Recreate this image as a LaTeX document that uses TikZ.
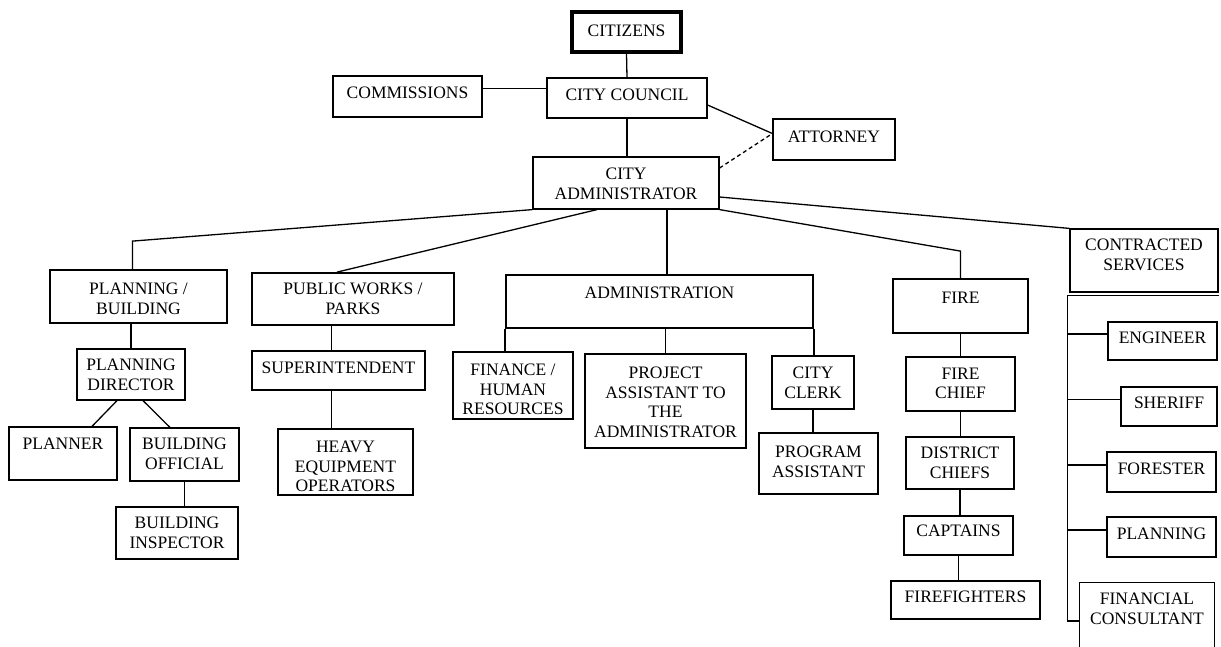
\documentclass[tikz,border=0pt]{standalone}
\usepackage{fontspec}
\setmainfont{Liberation Serif}
\newcommand{\bxt}[4]{\parbox[c][#2pt][t]{#1pt}{\centering\vspace*{#3pt}#4\par}}
\tikzset{
  orgbox/.style={draw, line width=1.2pt, inner sep=0pt, rectangle, font=\fontsize{17.5}{19.5}\selectfont},
  headbox/.style={orgbox, line width=1.8pt},
  topbox/.style={orgbox, line width=3.4pt},
  conn/.style={line width=1.3pt},
  dashconn/.style={line width=1.3pt, dash pattern=on 4pt off 3pt},
}
\begin{document}
\begin{tikzpicture}[x=1pt,y=-1pt]
\useasboundingbox (0,0) rectangle (1221,646);
\fill[white] (0,0) rectangle (1221,646);
% top
\node[topbox] (cit) at (626.5,32) {\bxt{109}{40}{13}{CITIZENS}};
\node[orgbox] (com) at (407.5,96.5) {\bxt{149}{41}{11}{COMMISSIONS}};
\node[orgbox] (cc) at (627,98) {\bxt{160}{40}{11}{CITY COUNCIL}};
\node[orgbox] (ca) at (626,183) {\bxt{186}{52}{11}{CITY\\ADMINISTRATOR}};
\node[orgbox] (att) at (834,139.5) {\bxt{122}{41}{12}{ATTORNEY}};
% departments
\node[headbox] (pb) at (138.5,296.5) {\bxt{177}{53}{13}{PLANNING /\\BUILDING}};
\node[headbox] (pw) at (353,299) {\bxt{202}{52}{10}{PUBLIC WORKS /\\PARKS}};
\node[headbox] (adm) at (659.5,301.5) {\bxt{307}{53}{12}{ADMINISTRATION}};
\node[headbox] (fire) at (960.5,306) {\bxt{135}{54}{13}{FIRE}};
\node[orgbox] (cs) at (1144,260.5) {\bxt{148}{63}{10}{CONTRACTED\\SERVICES}};
% planning
\node[orgbox] (pd) at (131,374.5) {\bxt{108}{51}{10}{PLANNING\\DIRECTOR}};
\node[orgbox] (pl) at (63,453.5) {\bxt{108}{53}{11}{PLANNER}};
\node[orgbox] (bo) at (184.5,454.5) {\bxt{109}{53}{10}{BUILDING\\OFFICIAL}};
\node[orgbox] (bi) at (177,533) {\bxt{122}{52}{10}{BUILDING\\INSPECTOR}};
% public works
\node[orgbox] (sup) at (338.5,370.5) {\bxt{173}{39}{11}{SUPERINTENDENT}};
\node[orgbox] (hv) at (345.5,462) {\bxt{135}{66}{12}{HEAVY\\EQUIPMENT\\OPERATORS}};
% administration
\node[orgbox] (fin) at (513,385.5) {\bxt{120}{67}{12}{FINANCE /\\HUMAN\\RESOURCES}};
\node[orgbox] (pa) at (665.5,401) {\bxt{161}{94}{13}{PROJECT\\ASSISTANT TO\\THE\\ADMINISTRATOR}};
\node[orgbox] (clk) at (813,382.5) {\bxt{82}{53}{11}{CITY\\CLERK}};
\node[orgbox] (prog) at (818.5,463.5) {\bxt{119}{61}{13}{PROGRAM\\ASSISTANT}};
% fire
\node[orgbox] (fc) at (960.5,384) {\bxt{109}{54}{11}{FIRE\\CHIEF}};
\node[orgbox] (dc) at (960,463) {\bxt{108}{52}{10}{DISTRICT\\CHIEFS}};
\node[orgbox] (cap) at (958.5,535.5) {\bxt{109}{39}{9}{CAPTAINS}};
\node[orgbox] (ff) at (965.5,600) {\bxt{149}{38}{10}{FIREFIGHTERS}};
% contracted
\node[orgbox] (eng) at (1162.5,341) {\bxt{109}{38}{10}{ENGINEER}};
\node[orgbox] (sh) at (1169,406.5) {\bxt{96}{39}{10}{SHERIFF}};
\node[orgbox] (fo) at (1161.5,472) {\bxt{109}{40}{11}{FORESTER}};
\node[orgbox] (pln) at (1161.5,537) {\bxt{109}{40}{11}{PLANNING}};
\node[orgbox, draw=none] (fcn) at (1147,614.5) {\bxt{134}{63}{10}{FINANCIAL\\CONSULTANT}};
\draw[line width=1.2pt] (fcn.south west) -- (fcn.north west) -- (fcn.north east) -- (fcn.south east);
% connectors top
\draw[conn] (cit.south) -- (cc.north);
\draw[conn] ([yshift=8pt]com.east) -- ([yshift=8pt]com.east -| cc.west);
\draw[conn] (cc.south) -- (cc.south |- ca.north);
\coordinate (attin) at ([yshift=6pt]att.west);
\draw[conn] ([yshift=-7pt]cc.east) -- (attin);
\draw[dashconn] ([yshift=15pt]ca.east) -- (attin);
% to departments
\draw[conn] (ca.south west) -- ([xshift=-6pt,yshift=28pt]pb.north) -- ([xshift=-6pt]pb.north);
\draw[conn] ([xshift=-29pt]ca.south) -- ([xshift=-16pt]pw.north);
\draw[conn] ([xshift=41pt]ca.south) -- ([xshift=41pt]ca.south |- adm.north);
\draw[conn] (ca.south east) -- ([yshift=27pt]fire.north) -- (fire.north);
\draw[conn] ([yshift=-14pt]ca.east) -- (cs.north west);
% planning subtree
\draw[conn] (pd.north |- pb.south) -- (pd.north);
\draw[conn] ([xshift=-14pt]pd.south) -- ([xshift=29pt]pl.north);
\draw[conn] ([xshift=12pt]pd.south) -- ([xshift=-14.5pt]bo.north);
\draw[conn] (bo.south) -- (bo.south |- bi.north);
% public works subtree
\draw[conn] ([xshift=-7pt]sup.north |- pw.south) -- ([xshift=-7pt]sup.north);
\draw[conn] ([xshift=-7pt]sup.south) -- ([xshift=-7pt]sup.south |- hv.north);
% administration subtree
\draw[conn] (adm.south west) -- (adm.south west |- fin.north);
\draw[conn] (pa.north |- adm.south) -- (pa.north);
\draw[conn] (adm.south east) -- (adm.south east |- clk.north);
\draw[conn] (clk.south) -- (clk.south |- prog.north);
% fire subtree
\draw[conn] (fire.south) -- (fire.south |- fc.north);
\draw[conn] (fc.south) -- (fc.south |- dc.north);
\draw[conn] (dc.south) -- (dc.south |- cap.north);
\draw[conn] (cap.south) -- (cap.south |- ff.north);
% contracted subtree
\coordinate (sp) at ([xshift=-2pt,yshift=-3pt]cs.south west);
\coordinate (fcw) at ([yshift=-6.5pt]fcn.west);
\coordinate (engw) at ([yshift=7pt]eng.west);
\coordinate (shw) at ([yshift=7pt]sh.west);
\coordinate (fow) at ([yshift=7pt]fo.west);
\coordinate (plnw) at ([yshift=7pt]pln.west);
\draw[conn] ([yshift=-3pt]cs.south east) -- (sp) -- (sp |- fcw) -- (fcw);
\draw[conn] (sp |- engw) -- (engw);
\draw[conn] (sp |- shw) -- (shw);
\draw[conn] (sp |- fow) -- (fow);
\draw[conn] (sp |- plnw) -- (plnw);
\end{tikzpicture}
\end{document}
